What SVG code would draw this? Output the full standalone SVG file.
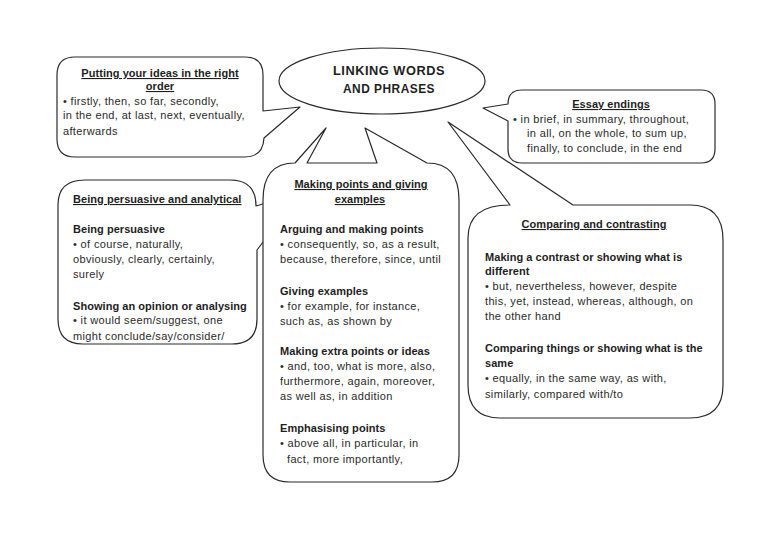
<svg xmlns="http://www.w3.org/2000/svg" width="768" height="543" viewBox="0 0 768 543">
<style>
  .shape { fill: #ffffff; stroke: #2a2a2a; stroke-width: 1.2; stroke-linejoin: round; }
  text { font-family: "Liberation Sans", Arial, sans-serif; fill: #1e1e1e; }
  .b { font-size: 11px; letter-spacing: 0.35px; fill: #2a2a2a; }
  .h { font-size: 11px; font-weight: bold; letter-spacing: 0.05px; }
  .u { text-decoration: underline; }
  .c { text-anchor: middle; }
  .t { font-size: 12px; font-weight: bold; letter-spacing: 0.5px; }
</style>
<defs>
  <clipPath id="clipLeft"><rect x="58" y="180" width="200" height="163"/></clipPath>
</defs>
<rect width="768" height="543" fill="#ffffff"/>

<g id="connectors"></g>

<g id="node-title">
  <ellipse class="shape" cx="382" cy="81" rx="103" ry="33"/>
  <text class="t" x="333" y="75" textLength="112" lengthAdjust="spacingAndGlyphs">LINKING WORDS</text>
  <text class="t" x="343" y="93" textLength="92" lengthAdjust="spacingAndGlyphs">AND PHRASES</text>
</g>

<g id="node-order">
  <path class="shape" d="M75,57 H245 Q263,57 263,75 V111 L300,107 L264,138 Q263,157 245,157 H75 Q57,157 57,139 V75 Q57,57 75,57 Z"/>
  <text class="h u c" x="160" y="77">Putting your ideas in the right</text>
  <text class="h u c" x="160" y="90">order</text>
  <text class="b" x="63" y="105">•  firstly, then, so far, secondly,</text>
  <text class="b" x="63" y="119">in the end, at last, next, eventually,</text>
  <text class="b" x="63" y="135">afterwards</text>
</g>

<g id="node-endings">
  <path class="shape" d="M522,90 H701 Q715,90 715,104 V149 Q715,163 701,163 H522 Q508,163 508,149 V121 L483,108 L508,104 Q508,90 522,90 Z"/>
  <text class="h u c" x="611" y="108">Essay endings</text>
  <text class="b" x="513" y="123">•  in brief, in summary, throughout,</text>
  <text class="b" x="527" y="137">in all, on the whole, to sum up,</text>
  <text class="b" x="527" y="152">finally, to conclude, in the end</text>
</g>

<g id="node-persuasive">
  <path class="shape" d="M58,205 Q58,180 85,180 H230 Q256,180 256,206 L276,200 L276,225 L257,250 V319 Q257,344 232,344 H83 Q58,344 58,319 Z"/>
  <g clip-path="url(#clipLeft)">
    <text class="h u" x="73" y="203">Being persuasive and analytical</text>
    <text class="h" x="73" y="233">Being persuasive</text>
    <text class="b" x="73" y="248">•  of course, naturally,</text>
    <text class="b" x="73" y="263">obviously, clearly, certainly,</text>
    <text class="b" x="73" y="278">surely</text>
    <text class="h" x="73" y="310">Showing an opinion or analysing</text>
    <text class="b" x="73" y="324">•  it would seem/suggest, one</text>
    <text class="b" x="73" y="340">might conclude/say/consider/</text>
  </g>
</g>

<g id="node-points">
  <path class="shape" d="M263,200 Q263,163 295,163 L326,128 L307,163 H377 L365,128 L427,163 Q459,163 459,200 V455 Q459,482 432,482 H290 Q263,482 263,455 Z"/>
  <text class="h u c" x="361" y="188">Making points and giving</text>
  <text class="h u c" x="360" y="203">examples</text>
  <text class="h" x="280" y="233">Arguing and making points</text>
  <text class="b" x="280" y="248">•  consequently, so, as a result,</text>
  <text class="b" x="280" y="263">because, therefore, since, until</text>
  <text class="h" x="280" y="295">Giving examples</text>
  <text class="b" x="280" y="310">•  for example, for instance,</text>
  <text class="b" x="280" y="325">such as, as shown by</text>
  <text class="h" x="280" y="355">Making extra points or ideas</text>
  <text class="b" x="280" y="370">•  and, too, what is more, also,</text>
  <text class="b" x="280" y="385">furthermore, again, moreover,</text>
  <text class="b" x="280" y="400">as well as, in addition</text>
  <text class="h" x="280" y="432">Emphasising points</text>
  <text class="b" x="280" y="447">•  above all, in particular, in</text>
  <text class="b" x="287" y="463">fact, more importantly,</text>
</g>

<g id="node-comparing">
  <path class="shape" d="M468,238 Q468,205 510,205 L448,122 L573,205 H690 Q723,205 723,240 V385 Q723,418 690,418 H500 Q468,418 468,385 Z"/>
  <text class="h u c" x="594" y="228">Comparing and contrasting</text>
  <text class="h" x="485" y="261">Making a contrast or showing what is</text>
  <text class="h" x="485" y="275">different</text>
  <text class="b" x="485" y="290">•  but, nevertheless, however, despite</text>
  <text class="b" x="485" y="305">this, yet, instead, whereas, although, on</text>
  <text class="b" x="485" y="320">the other hand</text>
  <text class="h" x="485" y="352">Comparing things or showing what is the</text>
  <text class="h" x="485" y="367">same</text>
  <text class="b" x="485" y="382">•  equally, in the same way, as with,</text>
  <text class="b" x="485" y="398">similarly, compared with/to</text>
</g>
</svg>
